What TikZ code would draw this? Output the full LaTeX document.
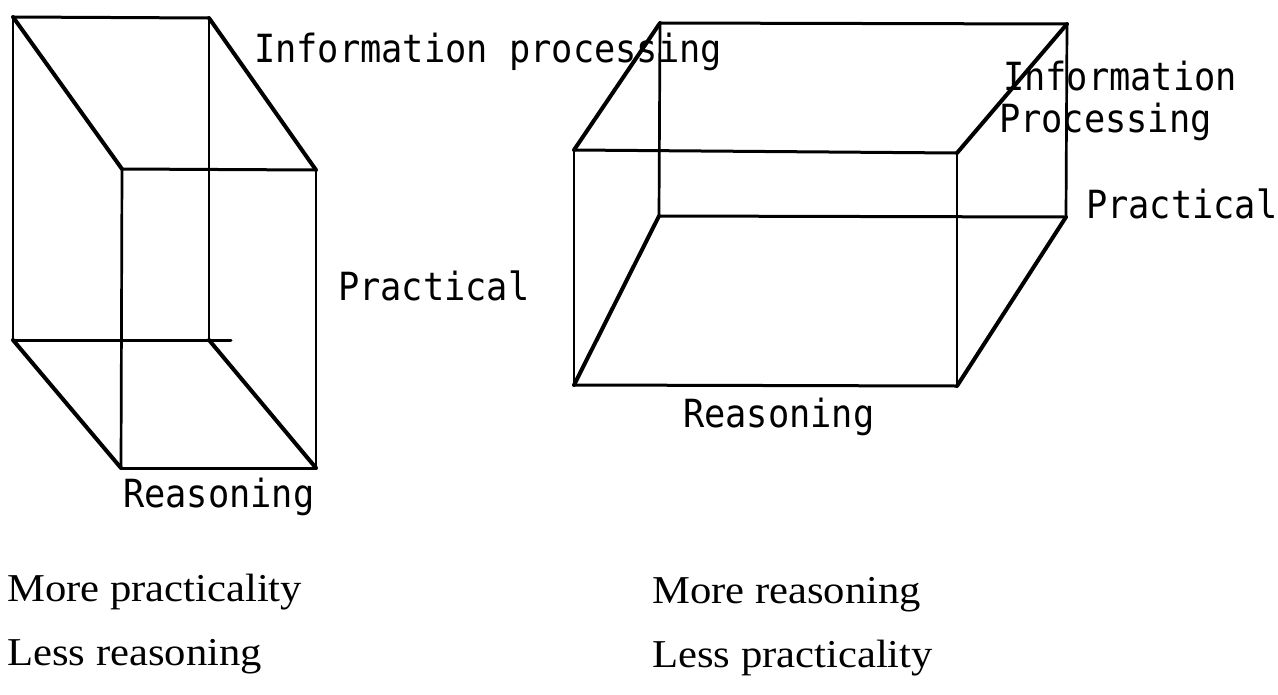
\documentclass[tikz,border=0pt]{standalone}
\usepackage{fontspec}
\setmainfont{Liberation Serif}
\newfontfamily\lgmono[FakeStretch=0.91]{DejaVu Sans Mono}
\newfontfamily\tmserif[FakeStretch=1.08]{Liberation Serif}
\begin{document}
\begin{tikzpicture}[x=1pt,y=-1pt,
  thin edge/.style={line width=2.7pt, line cap=round, line join=round},
  hor edge/.style={line width=3.0pt, line cap=round, line join=round},
  diag edge/.style={line width=4.0pt, line cap=round, line join=round},
  monolabel/.style={anchor=base west, inner sep=0pt, font=\lgmono\fontsize{38.8}{42}\selectfont},
  seriflabel/.style={anchor=base west, inner sep=0pt, font=\tmserif\fontsize{39.5}{44}\selectfont}]
\useasboundingbox (0,0) rectangle (1278,694);
% ---------- left box ----------
\coordinate (LBtl) at (13,17);
\coordinate (LBtr) at (209,18);
\coordinate (LBbl) at (13,340);
\coordinate (LBbr) at (209,340);
\coordinate (LBext) at (231,340);
\coordinate (LFtl) at (122,169);
\coordinate (LFtr) at (316,170);
\coordinate (LFbl) at (121,468);
\coordinate (LFbr) at (316,468);
\draw[hor edge] (LBtl) -- (LBtr);
\draw[thin edge] (LBtl) -- (LBbl);
\draw[thin edge] (LBtr) -- (LBbr);
\draw[hor edge] (LBbl) -- (LBext);
\draw[diag edge] (LBtl) -- (LFtl);
\draw[diag edge] (LBtr) -- (LFtr);
\draw[diag edge] (LBbl) -- (LFbl);
\draw[diag edge] (LBbr) -- (LFbr);
\draw[hor edge] (LFtl) -- (LFtr);
\draw[thin edge] (LFtl) -- (LFbl);
\draw[thin edge] (LFtr) -- (LFbr);
\draw[hor edge] (LFbl) -- (LFbr);
% ---------- right box ----------
\coordinate (RBtl) at (660,23);
\coordinate (RBtr) at (1067,24);
\coordinate (RBbl) at (659,216);
\coordinate (RBbr) at (1066,217);
\coordinate (RFtl) at (574,150);
\coordinate (RFtr) at (957,153);
\coordinate (RFbl) at (574,385);
\coordinate (RFbr) at (957,386);
\draw[hor edge] (RBtl) -- (RBtr);
\draw[thin edge] (RBtl) -- (RBbl);
\draw[thin edge] (RBtr) -- (RBbr);
\draw[hor edge] (RBbl) -- (RBbr);
\draw[diag edge] (RBtl) -- (RFtl);
\draw[diag edge] (RBtr) -- (RFtr);
\draw[diag edge] (RBbl) -- (RFbl);
\draw[diag edge] (RBbr) -- (RFbr);
\draw[hor edge] (RFtl) -- (RFtr);
\draw[thin edge] (RFtl) -- (RFbl);
\draw[thin edge] (RFtr) -- (RFbr);
\draw[hor edge] (RFbl) -- (RFbr);
% ---------- labels ----------
\node[monolabel] (linfo) at (254,62) {Information processing};
\node[monolabel] (lprac) at (338,300) {Practical};
\node[monolabel] (lreas) at (123,507) {Reasoning};
\node[monolabel] (rinfo) at (1003,90) {Information};
\node[monolabel] (rproc) at (999,132) {Processing};
\node[monolabel] (rprac) at (1086,218) {Practical};
\node[monolabel] (rreas) at (683,427) {Reasoning};
\node[seriflabel] (lmore) at (7,601) {More practicality};
\node[seriflabel] (lless) at (7,665) {Less reasoning};
\node[seriflabel] (rmore) at (652,603) {More reasoning};
\node[seriflabel] (rless) at (652,667) {Less practicality};
\end{tikzpicture}
\end{document}
